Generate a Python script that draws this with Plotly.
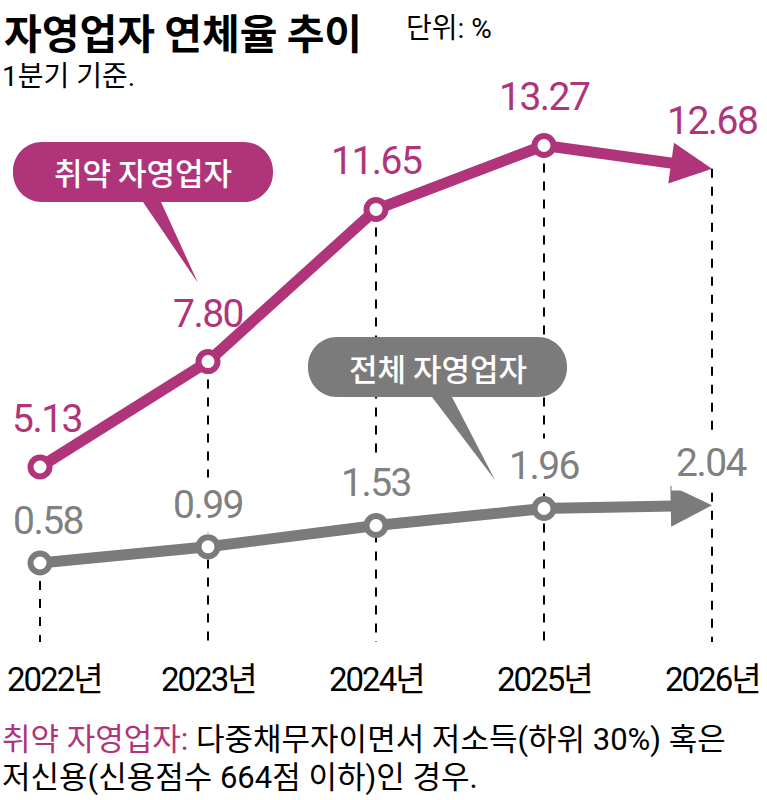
import plotly.graph_objects as go

# ---- data ----
years = [2022, 2023, 2024, 2025, 2026]
year_labels = ["2022년", "2023년", "2024년", "2025년", "2026년"]
vulnerable = [5.13, 7.80, 11.65, 13.27, 12.68]   # 취약 자영업자
overall = [0.58, 0.99, 1.53, 1.96, 2.04]         # 전체 자영업자

# ---- style ----
W, H = 767, 800
MAG = "#B0347A"
GRY = "#7B7B7B"
GRY_TXT = "#808080"
NUM_FONT = "Roboto, Noto Sans CJK KR, sans-serif"
KR_FONT = "Roboto, Noto Sans CJK KR, sans-serif"

PX_PER_UNIT = 39.5
SPAN = H / PX_PER_UNIT
Y_RANGE = [-3.30, -3.30 + SPAN]     # magenta series axis
Y2_RANGE = [-5.42, -5.42 + SPAN]    # gray series axis (same scale, offset)
X_RANGE = [2022 - 40 / 168, 2022 + (W - 40) / 168]


def px(x):
    return x / W


def py(y):
    return 1 - y / H


def tight(s, ls=-1):
    return f"<span style='letter-spacing:{ls}px'>{s}</span>"


fig = go.Figure()

fig.add_trace(go.Scatter(
    x=years[:4], y=vulnerable[:4], mode="lines+markers", yaxis="y",
    line=dict(color=MAG, width=11),
    marker=dict(symbol="circle", size=19, color="white", line=dict(color=MAG, width=6)),
    hoverinfo="skip", showlegend=False, cliponaxis=False))
fig.add_trace(go.Scatter(
    x=years[:4], y=overall[:4], mode="lines+markers", yaxis="y2",
    line=dict(color=GRY, width=11),
    marker=dict(symbol="circle", size=19, color="white", line=dict(color=GRY, width=6)),
    hoverinfo="skip", showlegend=False, cliponaxis=False))

shapes = []
frac_bot = 1 - 642 / H
for i, (yr, v, g) in enumerate(zip(years, vulnerable, overall)):
    if i == 0:
        yref, y0, rng = "y2", g, Y2_RANGE
    else:
        yref, y0, rng = "y", v, Y_RANGE
    shapes.append(dict(type="line", xref="x", yref=yref, x0=yr, x1=yr, y0=y0,
                       y1=rng[0] + (rng[1] - rng[0]) * frac_bot,
                       line=dict(color="black", width=2, dash="dash"), layer="below"))


def bubble(x0, y0, x1, y1, r, tl, tr, tip, color):
    k = 0.5523 * r
    p = []
    p.append(f"M{px(x0 + r)},{py(y0)}")
    p.append(f"L{px(x1 - r)},{py(y0)}")
    p.append(f"C{px(x1 - r + k)},{py(y0)} {px(x1)},{py(y0 + r - k)} {px(x1)},{py(y0 + r)}")
    p.append(f"L{px(x1)},{py(y1 - r)}")
    p.append(f"C{px(x1)},{py(y1 - r + k)} {px(x1 - r + k)},{py(y1)} {px(x1 - r)},{py(y1)}")
    p.append(f"L{px(tr)},{py(y1)}")
    p.append(f"L{px(tip[0])},{py(tip[1])}")
    p.append(f"L{px(tl)},{py(y1)}")
    p.append(f"L{px(x0 + r)},{py(y1)}")
    p.append(f"C{px(x0 + r - k)},{py(y1)} {px(x0)},{py(y1 - r + k)} {px(x0)},{py(y1 - r)}")
    p.append(f"L{px(x0)},{py(y0 + r)}")
    p.append(f"C{px(x0)},{py(y0 + r - k)} {px(x0 + r - k)},{py(y0)} {px(x0 + r)},{py(y0)}")
    p.append("Z")
    return dict(type="path", xref="paper", yref="paper", path=" ".join(p),
                fillcolor=color, line=dict(width=0), layer="above")


shapes.append(bubble(13, 142, 273, 202, 29, 143, 161, (198, 283), MAG))
shapes.append(bubble(308, 337, 567, 397, 29, 432, 452, (495, 480), GRY))

annotations = []
for vals, yref, col in [(vulnerable, "y", MAG), (overall, "y2", GRY)]:
    annotations.append(dict(
        x=years[4], y=vals[4], xref="x", yref=yref,
        ax=years[3], ay=vals[3], axref="x", ayref=yref,
        text="", showarrow=True, arrowhead=2, arrowsize=0.75, arrowwidth=11,
        arrowcolor=col, standoff=0, startstandoff=8))

for i, (yr, v) in enumerate(zip(years, vulnerable)):
    annotations.append(dict(x=yr, y=v, xref="x", yref="y", text=tight(f"{v:.2f}", -1.5),
                            showarrow=False, yshift=48, yanchor="middle", xanchor="center",
                            xshift=7 if i == 0 else 0,
                            font=dict(family=NUM_FONT, size=39, color=MAG)))
for i, (yr, v) in enumerate(zip(years, overall)):
    annotations.append(dict(x=yr, y=v, xref="x", yref="y2", text=tight(f"{v:.2f}", -1.5),
                            showarrow=False, yshift=42, yanchor="middle", xanchor="center",
                            xshift=8 if i == 0 else 0,
                            bgcolor="white", borderpad=4,
                            font=dict(family=NUM_FONT, size=39, color=GRY_TXT)))

for i, (yr, lab) in enumerate(zip(years, year_labels)):
    annotations.append(dict(x=yr, y=py(679), xref="x", yref="paper", text=tight(lab, -2),
                            showarrow=False, yanchor="middle", xanchor="center",
                            xshift=14 if i == 0 else 0,
                            font=dict(family=KR_FONT, size=33, color="black")))

annotations.append(dict(x=px(143), y=py(172), xref="paper", yref="paper",
                        xanchor="center", yanchor="middle",
                        text="취약 자영업자", showarrow=False,
                        font=dict(family="Noto Sans CJK KR", size=31, color="white", weight=500)))
annotations.append(dict(x=px(438), y=py(367), xref="paper", yref="paper",
                        xanchor="center", yanchor="middle",
                        text="전체 자영업자", showarrow=False,
                        font=dict(family="Noto Sans CJK KR", size=31, color="white", weight=500)))

annotations.append(dict(x=px(3), y=1, xref="paper", yref="paper", xanchor="left",
                        yanchor="top", showarrow=False, borderpad=0,
                        text="<b>자영업자 연체율 추이</b>",
                        font=dict(family="Noto Sans CJK KR", size=41, color="black")))
annotations.append(dict(x=px(404), y=py(28), xref="paper", yref="paper", xanchor="left",
                        yanchor="middle", showarrow=False, text="단위: %",
                        font=dict(family=KR_FONT, size=28, color="black")))
annotations.append(dict(x=px(0), y=py(77), xref="paper", yref="paper", xanchor="left",
                        yanchor="middle", showarrow=False, text="1분기 기준.",
                        font=dict(family=KR_FONT, size=28, color="black")))

annotations.append(dict(x=px(0), y=py(739), xref="paper", yref="paper", xanchor="left",
                        yanchor="middle", showarrow=False,
                        text=f"<span style='color:{MAG}'>취약 자영업자:</span> 다중채무자이면서 저소득(하위 30%) 혹은",
                        font=dict(family=KR_FONT, size=31, color="black")))
annotations.append(dict(x=px(0), y=py(777), xref="paper", yref="paper", xanchor="left",
                        yanchor="middle", showarrow=False,
                        text="저신용(신용점수 664점 이하)인 경우.",
                        font=dict(family=KR_FONT, size=31, color="black")))

fig.update_layout(
    width=W, height=H, autosize=False,
    margin=dict(l=0, r=0, t=0, b=0),
    paper_bgcolor="white", plot_bgcolor="white",
    xaxis=dict(visible=False, range=X_RANGE, fixedrange=True),
    yaxis=dict(visible=False, range=Y_RANGE, fixedrange=True),
    yaxis2=dict(visible=False, range=Y2_RANGE, overlaying="y", fixedrange=True),
    shapes=shapes, annotations=annotations, showlegend=False,
)

fig.write_html("out.html")
